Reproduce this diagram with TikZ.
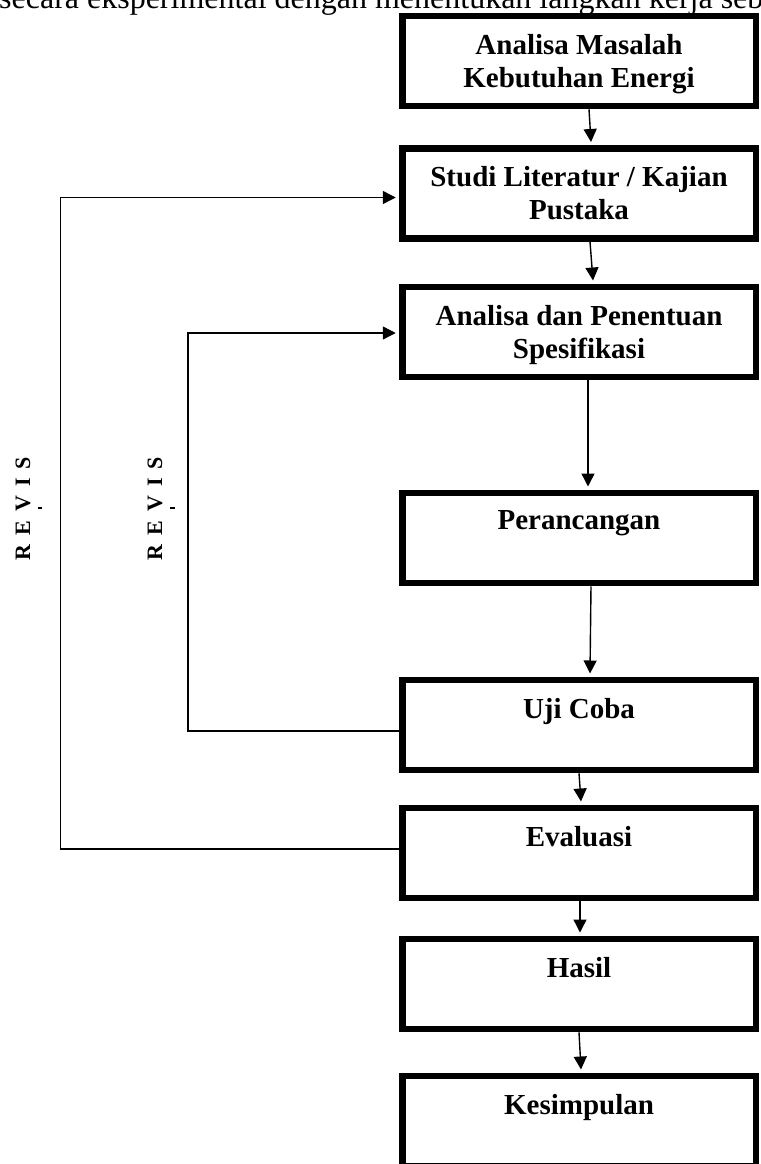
\documentclass[tikz,border=0pt]{standalone}
\usepackage{fontspec}
\setmainfont{Liberation Serif}
\usetikzlibrary{arrows.meta}
\begin{document}
\begin{tikzpicture}[x=1pt,y=-1pt,
  box/.style={draw, line width=6.5pt, minimum width=353.5pt, minimum height=90pt, inner sep=0pt},
  lbl/.style={anchor=north, align=center, inner sep=0pt, font=\fontsize{29}{33}\selectfont\bfseries},
  tip/.style={-{Triangle[length=13pt,width=13pt]}},
  conn/.style={line width=1.4pt, tip},
  fb/.style={line width=1.4pt, shorten >=3.25pt, tip},
  rev/.style={rotate=90, anchor=base, inner sep=0pt, font=\fontsize{22}{24}\selectfont\bfseries}]
\useasboundingbox (0,0) rectangle (760,1164);
\clip (0,0) rectangle (760,1164);
\node[anchor=base west, inner sep=0pt, font=\fontsize{32}{36}\selectfont] (intro) at (-1,9) {secara eksperimental dengan menentukan langkah kerja seb};
% boxes
\node[box] (b1) at (579,61) {};
\node[box] (b2) at (579,193.5) {};
\node[box] (b3) at (579,332) {};
\node[box] (b4) at (579,538) {};
\node[box] (b5) at (579,725) {};
\node[box] (b6) at (579,853) {};
\node[box] (b7) at (579,984) {};
\node[box] (b8) at (579,1121) {};
% texts
\node[lbl] (t1) at ([yshift=-21pt]b1.north) {Analisa Masalah\\Kebutuhan Energi};
\node[lbl] (t2) at ([yshift=-21pt]b2.north) {Studi Literatur / Kajian\\Pustaka};
\node[lbl] (t3) at ([yshift=-21pt]b3.north) {Analisa dan Penentuan\\Spesifikasi};
\node[lbl] (t4) at ([yshift=-21pt]b4.north) {Perancangan};
\node[lbl] (t5) at ([yshift=-21pt]b5.north) {Uji Coba};
\node[lbl] (t6) at ([yshift=-21pt]b6.north) {Evaluasi};
\node[lbl] (t7) at ([yshift=-21pt]b7.north) {Hasil};
\node[lbl] (t8) at ([yshift=-21pt]b8.north) {Kesimpulan};
% main arrows
\draw[conn] ([xshift=10pt]b1.south) -- ([xshift=12pt,yshift=3.25pt]b2.north);
\draw[conn] ([xshift=11pt]b2.south) -- ([xshift=14pt,yshift=3.25pt]b3.north);
\draw[conn] ([xshift=9pt]b3.south) -- ([xshift=9pt,yshift=3.25pt]b4.north);
\draw[conn] ([xshift=12pt]b4.south) -- ([xshift=11pt,yshift=3.25pt]b5.north);
\draw[conn] ([xshift=0pt]b5.south) -- ([xshift=2pt,yshift=3.25pt]b6.north);
\draw[conn] ([xshift=1pt]b6.south) -- ([xshift=1pt,yshift=3.25pt]b7.north);
\draw[conn] ([xshift=0pt]b7.south) -- ([xshift=2pt,yshift=3.25pt]b8.north);
% feedback loops
\coordinate (c1) at (60.5,849);
\coordinate (c2) at (60.5,197.5);
\coordinate (c3) at (188,731);
\coordinate (c4) at (188,333);
\draw[fb] (b6.west |- c1) -- (c1) -- (c2) -- (c2 -| b2.west);
\draw[fb] (b5.west |- c3) -- (c3) -- (c4) -- (c4 -| b3.west);
% labels
\node[rev] (r1) at (30,508.5) {R\hspace{9pt}E\hspace{9pt}V\hspace{9pt}I\hspace{9pt}S};
\node[rev] (r2) at (162,508.5) {R\hspace{9pt}E\hspace{9pt}V\hspace{9pt}I\hspace{9pt}S};
\node[inner sep=0pt] (d1) at (40,508) {\rule{5pt}{1.2pt}};
\node[inner sep=0pt] (d2) at (172,508) {\rule{5pt}{1.2pt}};
\end{tikzpicture}
\end{document}
